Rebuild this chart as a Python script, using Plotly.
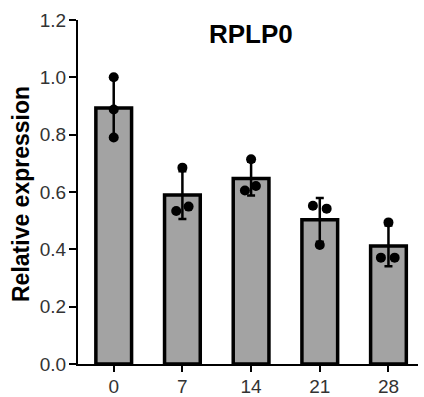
import numpy as np
import plotly.graph_objects as go

categories = ["0", "7", "14", "21", "28"]
rep1 = [1.00, 0.685, 0.714, 0.552, 0.494]
rep2 = [0.888, 0.534, 0.605, 0.542, 0.371]
rep3 = [0.790, 0.549, 0.621, 0.415, 0.371]
y_ticks = [0.0, 0.2, 0.4, 0.6, 0.8, 1.0, 1.2]
title_text = "RPLP0"
y_title = "Relative expression"

reps = np.array([rep1, rep2, rep3])
means = reps.mean(axis=0)
sds = reps.std(axis=0, ddof=1)
xpos = np.arange(len(categories))

# horizontal jitter (style) for the three replicate dots per group
jitter = [
    [0.0, 0.0, 0.0],
    [0.0, -0.09, 0.09],
    [0.0, -0.09, 0.07],
    [-0.1, 0.1, 0.0],
    [0.0, -0.11, 0.09],
]

fig = go.Figure()
fig.add_trace(go.Bar(
    x=xpos, y=means, width=0.52,
    marker=dict(color="#a3a3a3", line=dict(color="black", width=3.5)),
    error_y=dict(type="data", array=sds, visible=True, color="black",
                 thickness=2.5, width=4),
    showlegend=False,
))
for r in range(3):
    fig.add_trace(go.Scatter(
        x=[xpos[i] + jitter[i][r] for i in range(len(categories))],
        y=reps[r], mode="markers",
        marker=dict(color="black", size=10),
        showlegend=False,
    ))

font_fam = "Liberation Sans, Arial, sans-serif"
W, H = 424, 397
ML, MR, MT, MB = 78, 6, 20, 33
plot_w = W - ML - MR
plot_h = H - MT - MB

fig.update_layout(
    width=W, height=H,
    margin=dict(l=ML, r=MR, t=MT, b=MB, autoexpand=False),
    plot_bgcolor="white", paper_bgcolor="white",
    font=dict(family=font_fam, color="#333"),
    xaxis=dict(range=[-0.52, 4.43], tickvals=list(xpos), ticktext=categories,
               showline=True, linecolor="black", linewidth=2,
               ticks="outside", ticklen=6, tickwidth=2, tickcolor="black",
               showgrid=False, zeroline=False, ticklabelstandoff=-2,
               automargin=False,
               tickfont=dict(size=19, color="#333")),
    yaxis=dict(range=[0, 1.2], tickvals=y_ticks,
               ticktext=[f"{v:.1f}" for v in y_ticks],
               showline=True, linecolor="black", linewidth=2,
               ticks="outside", ticklen=7, tickwidth=2, tickcolor="black",
               showgrid=False, zeroline=False, ticklabelstandoff=-1,
               automargin=False,
               tickfont=dict(size=19, color="#333")),
    annotations=[
        dict(text=f"<b>{title_text}</b>", x=2.0, y=1.15, xref="x", yref="y",
             showarrow=False, font=dict(size=26, color="black", family=font_fam)),
        dict(text=f"<b>{y_title}</b>",
             x=(21 - ML) / plot_w, y=(H - MB - 194) / plot_h,
             xref="paper", yref="paper", xanchor="center", yanchor="middle",
             showarrow=False, textangle=-90,
             font=dict(size=23, color="black", family=font_fam)),
    ],
)
fig.write_html("out.html", post_script="document.body.style.margin='0';",
               config={"displayModeBar": False})
